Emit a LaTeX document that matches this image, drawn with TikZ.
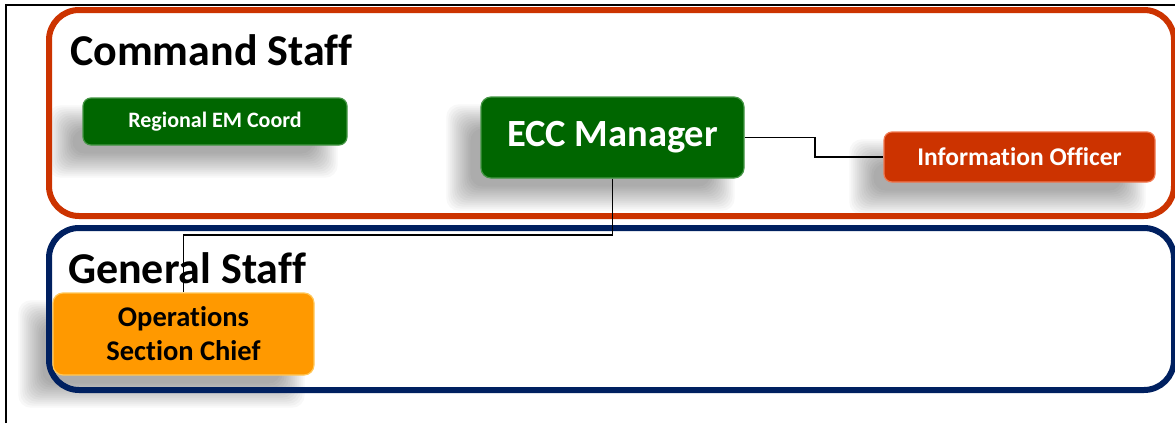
\documentclass[tikz,border=0pt]{standalone}
\usepackage{fontspec}
\setmainfont{Carlito}[Ligatures=NoCommon]
\definecolor{cmdred}{RGB}{204,51,0}
\definecolor{genblue}{RGB}{0,32,96}
\definecolor{boxgreen}{RGB}{0,102,0}
\definecolor{boxgreenedge}{RGB}{70,150,70}
\definecolor{boxorange}{RGB}{255,153,0}
\definecolor{boxorangeedge}{RGB}{255,200,90}
\definecolor{boxredfill}{RGB}{204,51,0}
\definecolor{boxrededge}{RGB}{240,120,80}
\pgfdeclarelayer{back}
\pgfdeclarelayer{shade}
\pgfsetlayers{back,shade,main}
\begin{document}
\begin{tikzpicture}[x=1pt,y=-1pt,
  section/.style={line width=6pt, rounded corners=30pt},
  title/.style={anchor=base west, font=\bfseries\fontsize{44}{50}\selectfont, inner sep=0pt},
  rolebox/.style={rectangle, rounded corners=8pt, line width=1.2pt, inner sep=0pt, align=center, font=\bfseries},
  greenbox/.style={rolebox, fill=boxgreen, draw=boxgreenedge, text=white},
  redbox/.style={rolebox, fill=boxredfill, draw=boxrededge, text=white},
  orangebox/.style={rolebox, fill=boxorange, draw=boxorangeedge, text=black},
  shadowlayer/.style={fill=black, opacity=0.028, rounded corners=12pt},
  link/.style={draw=black, line width=1.2pt}
]
\useasboundingbox (0,0) rectangle (1175,423);
\begin{pgfonlayer}{back}
\fill[white] (0,0) rectangle (1175,423);
\end{pgfonlayer}
% outer frame
\draw[line width=2pt] (6,423) -- (6,5) -- (1175,5);
% section boxes
\draw[section, draw=cmdred] (49,10) rectangle (1174,216);
\draw[section, draw=genblue] (49,228) rectangle (1174,390);
% titles
\node[title] (cmdtitle) at (70,65) {Command Staff};
\node[title] (gentitle) at (68,283) {General Staff};
% nodes
\node[greenbox, minimum width=264pt, minimum height=47pt, font=\bfseries\fontsize{22}{26}\selectfont] (reg) at (215,121.5) {Regional EM Coord};
\node[greenbox, minimum width=263pt, minimum height=81pt, rounded corners=10pt, font=\bfseries\fontsize{38.5}{42}\selectfont] (ecc) at (612.5,137.5) {ECC Manager};
\node[redbox, minimum width=271pt, minimum height=50pt, font=\bfseries\fontsize{25.5}{28}\selectfont] (info) at (1019.5,157) {Information Officer};
\node[orangebox, minimum width=261pt, minimum height=82pt, rounded corners=10pt, font=\bfseries\fontsize{28.5}{34}\selectfont] (ops) at (183.5,334) {Operations\\Section Chief};
% soft shadows
\begin{pgfonlayer}{shade}
\foreach \n in {reg,ecc,info,ops}{
  \foreach \e in {-12,-10,...,12}{
    \fill[shadowlayer] ([shift={(-22-\e,20-\e)}]\n.north west) rectangle ([shift={(-22+\e,20+\e)}]\n.south east);
  }
}
\end{pgfonlayer}
% connectors
\coordinate (j1) at (815,0);
\coordinate (j2) at (0,235);
\draw[link] (ecc.east) -- (ecc.east -| j1) -- (j1 |- info.west) -- (info.west);
\draw[link] (ecc.south) -- (ecc.south |- j2) -- (ops.north |- j2) -- (ops.north);
\end{tikzpicture}
\end{document}
